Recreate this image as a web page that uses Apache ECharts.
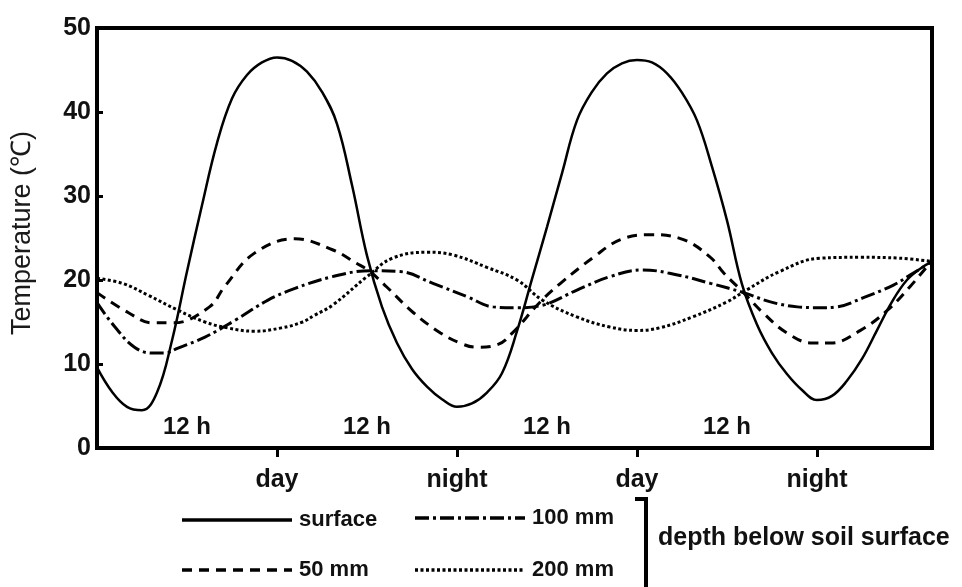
<!DOCTYPE html>
<html>
<head>
<meta charset="utf-8">
<script src="https://cdn.jsdelivr.net/npm/echarts@6/dist/echarts.min.js"></script>
<style>
html,body{margin:0;padding:0;background:#fff;}
#chart{width:962px;height:587px;}
</style>
</head>
<body>
<div id="chart"></div>
<script>
// ---- data (x in hours, y in °C) ----
const surface = [[0,9.6],[1,6.7],[2,4.9],[3,4.5],[4,6.6],[5,12.8],[6,21.0],[7,28.9],[8,36.3],[9,41.6],[10,44.4],[11,45.9],[12,46.5],[13,46.1],[14,44.8],[15,42.4],[16,38.6],[17,31.3],[18,22.9],[19,16.8],[20,12.5],[21,9.4],[22,7.3],[23,5.8],[24,4.9],[25,5.3],[26,6.6],[27,8.9],[28,13.9],[29,20.1],[30,26.3],[31,32.7],[32,39.0],[33,42.4],[34,44.6],[35,45.8],[36,46.2],[37,45.9],[38,44.6],[39,42.3],[40,39.0],[41,33.5],[42,27.1],[43,19.5],[44,14.7],[45,11.3],[46,8.8],[47,6.9],[48,5.7],[49,6.2],[50,8.0],[51,10.6],[52,14.0],[53,17.4],[54,20.0],[55,21.5],[55.67,22.2]];
const mm50 = [[0,18.5],[2.1,16.1],[3.7,14.9],[5.1,14.9],[7.5,16.8],[8.5,19.2],[10.5,23.2],[13.2,24.9],[15.7,23.6],[17.3,22.0],[18.2,21.0],[19.3,19.2],[21.1,16.1],[22.9,13.7],[24.2,12.5],[25.3,12.0],[26.7,12.3],[27.7,13.7],[29.5,17.3],[30.9,19.6],[33.1,22.7],[34.9,24.8],[36.9,25.4],[39.1,24.8],[40.9,22.7],[41.8,20.8],[43.1,18.5],[44.4,16.1],[46.0,13.7],[47.7,12.5],[48.9,12.5],[50.9,14.0],[52.7,16.4],[54.2,19.2],[55.3,21.5],[55.67,22.2]];
const mm100 = [[0,17.3],[1.2,14.4],[2.5,12.0],[3.7,11.3],[4.5,11.3],[5.4,11.9],[7.2,13.2],[9.2,15.2],[11.4,17.6],[13.2,19.0],[15.7,20.4],[18.2,21.1],[20.2,21.0],[22.4,19.6],[24.7,18.0],[26.4,16.8],[28.0,16.7],[29.7,17.0],[32.0,18.8],[34.2,20.4],[36.4,21.2],[38.7,20.6],[40.9,19.6],[43.1,18.5],[44.9,17.4],[46.7,16.8],[48.2,16.7],[49.3,16.8],[51.1,17.9],[53.1,19.4],[54.4,20.8],[55.67,22.2]];
const mm200 = [[0,20.2],[1.7,19.6],[3.4,18.2],[5.4,16.4],[7.2,15.0],[8.7,14.3],[10.5,13.9],[12.3,14.3],[13.7,15.0],[14.5,15.8],[15.7,17.0],[18.0,20.4],[19.7,22.6],[22.0,23.3],[23.7,23.0],[26.0,21.5],[28.0,20.0],[29.7,17.6],[32.0,15.6],[34.2,14.4],[36.0,14.0],[37.5,14.3],[39.7,15.6],[42.0,17.4],[43.3,18.8],[45.5,21.0],[48.2,22.6],[50.9,22.7],[53.5,22.6],[55.67,22.2]];
const xTickValues = [12, 24, 36, 48];
const xTickLabels = ['day', 'night', 'day', 'night'];
const halfDayX = [6, 18, 30, 42];
const halfDayY = 2.4;
const halfDayText = '12 h';
const seriesNames = ['surface', '50 mm', '100 mm', '200 mm'];
const yTitle = 'Temperature (℃)';
const legendNote = 'depth below soil surface';

const FONT = 'Liberation Sans, Arial, sans-serif';
const chart = echarts.init(document.getElementById('chart'));

const lineDef = (name, data, type, width, sm) => ({
  name, type: 'line', data, smooth: sm, showSymbol: false, silent: true,
  lineStyle: { color: '#000', width: width, type: type }
});

// legend drawn as graphic
const legendItems = [
  { x: 182, y: 520, dash: null, text: seriesNames[0] },
  { x: 182, y: 570, dash: [10, 7], text: seriesNames[1] },
  { x: 415, y: 518, dash: [14, 4, 3, 4], text: seriesNames[2] },
  { x: 415, y: 570, dash: [3, 2.5], text: seriesNames[3] }
];
const graphics = [];
legendItems.forEach(it => {
  graphics.push({ type: 'line', shape: { x1: it.x, y1: it.y, x2: it.x + 110, y2: it.y },
    style: { stroke: '#000', lineWidth: 3.5, lineDash: it.dash } });
  graphics.push({ type: 'text', x: it.x + 117, y: it.y,
    style: { text: it.text, font: 'bold 22px ' + FONT, fill: '#111', textVerticalAlign: 'middle' } });
});
graphics.push({ type: 'polyline', shape: { points: [[635, 499], [646, 499], [646, 590]] },
  style: { stroke: '#000', lineWidth: 4, fill: null } });
graphics.push({ type: 'text', x: 658, y: 538,
  style: { text: legendNote, font: 'bold 25px ' + FONT, fill: '#111', textVerticalAlign: 'middle' } });
graphics.push({ type: 'text', x: 23, y: 233, rotation: Math.PI / 2,
  style: { text: yTitle, font: '27px ' + FONT, fill: '#1a1a1a', textAlign: 'center', textVerticalAlign: 'middle' } });

chart.setOption({
  animation: false,
  backgroundColor: '#fff',
  grid: { left: 97, right: 30, top: 28, bottom: 139, show: true, borderColor: '#000', borderWidth: 4 },
  xAxis: {
    type: 'value', min: 0, max: 55.67, interval: 12,
    axisLine: { lineStyle: { color: '#000', width: 4 } },
    axisTick: { show: true, inside: false, length: 9, lineStyle: { color: '#000', width: 3 },
      customValues: xTickValues },
    axisLabel: { color: '#111', fontFamily: FONT, fontWeight: 'bold', fontSize: 25, margin: 20,
      customValues: xTickValues,
      formatter: v => { const i = xTickValues.indexOf(Math.round(v)); return i >= 0 ? xTickLabels[i] : ''; } },
    splitLine: { show: false }
  },
  yAxis: {
    type: 'value', min: 0, max: 50, interval: 10,
    axisLine: { lineStyle: { color: '#000', width: 4 } },
    axisTick: { show: true, inside: true, length: 6, lineStyle: { color: '#000', width: 3 } },
    axisLabel: { color: '#111', fontFamily: FONT, fontWeight: 'bold', fontSize: 25, margin: 6 },
    splitLine: { show: false }
  },
  graphic: graphics,
  series: [
    lineDef(seriesNames[0], surface, 'solid', 2.5, 0.4),
    lineDef(seriesNames[1], mm50, [10, 7], 3, 0.4),
    lineDef(seriesNames[2], mm100, [14, 4, 3, 4], 3, 0.4),
    lineDef(seriesNames[3], mm200, [3, 2.5], 3, 0.4),
    {
      type: 'scatter', silent: true, symbolSize: 0,
      itemStyle: { opacity: 1 },
      data: halfDayX.map(x => [x, halfDayY]),
      label: { show: true, position: 'inside', formatter: halfDayText, opacity: 1,
        color: '#111', fontFamily: FONT, fontWeight: 'bold', fontSize: 24 }
    }
  ]
});
</script>
</body>
</html>
